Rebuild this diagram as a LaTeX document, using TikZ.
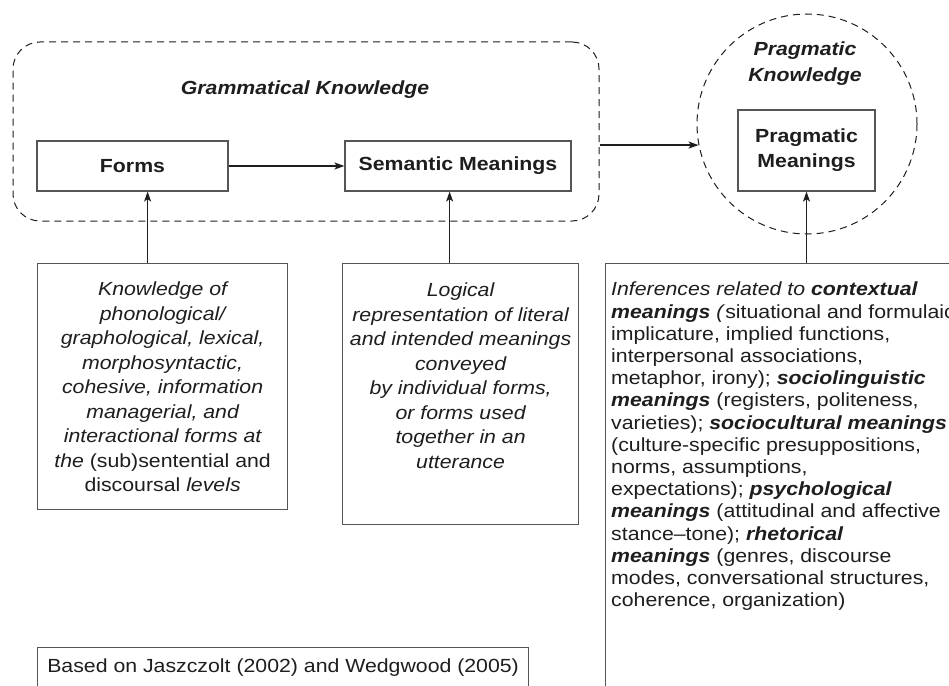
\documentclass[tikz,border=0pt]{standalone}
\usepackage{fontspec}
\setmainfont[FakeStretch=1.12]{Liberation Sans}
\usetikzlibrary{arrows.meta,positioning,shapes.geometric}
\definecolor{boxgray}{RGB}{85,85,85}
\definecolor{inkblack}{RGB}{30,30,30}
\begin{document}
\begin{tikzpicture}[x=1pt,y=-1pt,>={Stealth[length=10pt,width=7pt,inset=2.5pt]},
 font=\fontsize{19}{20.6}\selectfont,text=inkblack,
 zone/.style={draw=inkblack,line width=1pt,dash pattern=on 7pt off 5pt},
 bx/.style={draw=boxgray,line width=1.2pt,fill=white,align=center,font=\fontsize{19}{25}\selectfont\bfseries},
 tb/.style={draw=boxgray,line width=1.2pt,anchor=north west},
 tx/.style={inner sep=0pt,align=center,font=\fontsize{19}{24.5}\selectfont\itshape},
 arr/.style={->,line width=1.4pt,draw=inkblack}]
\useasboundingbox (0,0) rectangle (949,685);
\fill[white] (0,0) rectangle (949,685);
\clip (0,0) rectangle (949,685);
\node[zone,rounded corners=27pt,minimum width=586pt,minimum height=179pt] (gk) at (306,131.5) {};
\node[font=\fontsize{19}{20.6}\selectfont\bfseries\itshape] (gklab) at (305,90) {Grammatical Knowledge};
\node[bx,minimum width=191pt,minimum height=50pt] (forms) at (132.5,166) {Forms};
\node[bx,minimum width=226pt,minimum height=50pt] (sem) at (458,166) {Semantic Meanings};
\node[zone,circle,minimum size=220pt] (pk) at (807,124) {};
\node[align=center,font=\fontsize{19}{26}\selectfont\bfseries\itshape] (pklab) at (805,63.5) {Pragmatic\\Knowledge};
\node[bx,minimum width=137pt,minimum height=81pt] (pm) at (806.5,150.5) {Pragmatic\\Meanings};
\node[tb,minimum width=250pt,minimum height=246pt] (kbox) at (37,263) {};
\node[tx,below=19pt of kbox.north] (ktext) {Knowledge of\\phonological/\\graphological, lexical,\\morphosyntactic,\\cohesive, information\\managerial, and\\interactional forms at\\the {\upshape(sub)sentential and}\\{\upshape discoursal} levels};
\node[tb,minimum width=236pt,minimum height=261pt] (lbox) at (342,263) {};
\node[tx,below=20pt of lbox.north] (ltext) {Logical\\representation of literal\\and intended meanings\\conveyed\\by individual forms,\\or forms used\\together in an\\utterance};
\node[tb,minimum width=400pt,minimum height=500pt] (infbox) at (605,263) {};
\node[inner sep=0pt,align=left,font=\fontsize{19}{22.2}\selectfont,below right=19pt and 6pt of infbox.north west] (inftext) {\textit{Inferences related to} \textbf{\textit{contextual}}\\\textbf{\textit{meanings}} \textit{(}situational and formulaic\\implicature, implied functions,\\interpersonal associations,\\metaphor, irony); \textbf{\textit{sociolinguistic}}\\\textbf{\textit{meanings}} (registers, politeness,\\varieties); \textbf{\textit{sociocultural meanings}}\\(culture-specific presuppositions,\\norms, assumptions,\\expectations); \textbf{\textit{psychological}}\\\textbf{\textit{meanings}} (attitudinal and affective\\stance--tone); \textbf{\textit{rhetorical}}\\\textbf{\textit{meanings}} (genres, discourse\\modes, conversational structures,\\coherence, organization)};
\node[tb,minimum width=491pt,minimum height=60pt] (src) at (37,647) {};
\node[inner sep=0pt,below=12pt of src.north] (srctext) {Based on Jaszczolt (2002) and Wedgwood (2005)};
\draw[arr] (forms) -- (sem);
\draw[arr] (gk.east |- pk.191) -- (pk.191);
\draw[arr] ([xshift=-15pt]kbox.north) -- ([xshift=-15pt]kbox.north |- forms.south);
\draw[arr] ([xshift=-11pt]lbox.north) -- ([xshift=-11pt]lbox.north |- sem.south);
\draw[arr] (pm.south |- infbox.north) -- (pm.south);
\end{tikzpicture}
\end{document}
